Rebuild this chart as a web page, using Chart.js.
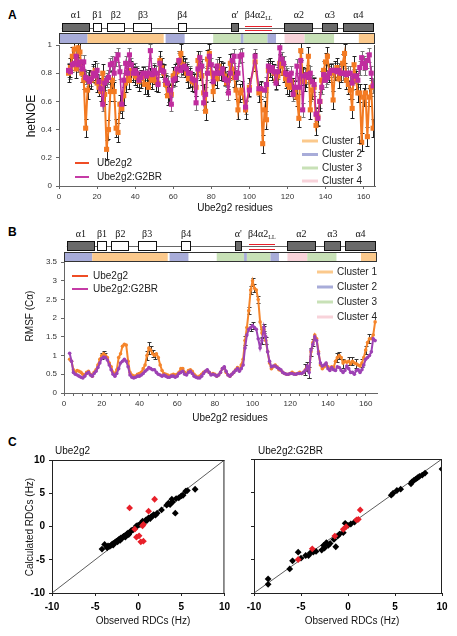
<!DOCTYPE html>
<html>
<head>
<meta charset="utf-8">
<title>Ube2g2 dynamics</title>
<script src="https://cdn.jsdelivr.net/npm/chart.js@4.4.1/dist/chart.umd.min.js"></script>
<style>
  html, body { margin: 0; padding: 0; background: #fff; }
  body { position: relative; width: 457px; height: 636px; overflow: hidden; font-family: "Liberation Sans", Arial, sans-serif; }
  canvas { position: absolute; }
  .panel-letter { position: absolute; font-weight: bold; font-size: 12px; line-height: 14px; color: #000; }
</style>
</head>
<body>
<div class="panel-letter" style="left:8px; top:8px;">A</div>
<div class="panel-letter" style="left:8px; top:225px;">B</div>
<div class="panel-letter" style="left:8px; top:435px;">C</div>
<canvas id="noeChart" width="457" height="215" style="left:0; top:0;"></canvas>
<canvas id="rmsfChart" width="457" height="212" style="left:0; top:220px;"></canvas>
<canvas id="rdcFree" width="235" height="196" style="left:0; top:440px;"></canvas>
<canvas id="rdcBound" width="222" height="196" style="left:235px; top:440px;"></canvas>
<script>
// Ube2g2 figure - hetNOE, RMSF and RDC panels

const FONT = '"Liberation Sans", Arial, sans-serif';
const SERIF = '"Liberation Serif", "Times New Roman", serif';

// ---- Panel A: hetNOE per residue ----
const noeResidues = [
    5, 6, 7, 8, 9, 10, 11, 12, 13, 14,
    15, 16, 17, 18, 19, 20, 21, 22, 23, 24,
    25, 26, 27, 28, 29, 30, 31, 32, 33, 34,
    35, 36, 37, 38, 39, 40, 41, 42, 43, 44,
    45, 46, 47, 48, 49, 50, 51, 52, 53, 54,
    55, 56, 57, 58, 59, 60, 61, 62, 63, 64,
    65, 66, 67, 68, 69, 70, 71, 72, 73, 74,
    75, 76, 77, 78, 79, 80, 81, 82, 83, 84,
    85, 86, 87, 88, 89, 90, 91, 92, 93, 94,
    95, 96, 98, 100, 103,
    105, 106, 107, 108, 109, 110, 111, 112, 113, 114,
    115, 116, 117, 118, 119, 120, 121, 122, 123, 124,
    125, 126, 127, 128, 129, 130, 131, 132, 133, 134,
    135, 136, 137, 138, 139, 140, 141, 142, 143, 144,
    145, 146, 147, 148, 149, 150, 151, 152, 153, 154,
    155, 156, 157, 158, 159, 160, 161, 162, 163, 164, 165
];
const noeUbe = [
    0.80, 0.84, 0.92, 0.97, 0.83, 0.98, 0.95, 0.80, 0.75, 0.41,
    0.68, 0.76, 0.75, 0.80, 0.82, 0.73, 0.70, 0.67, 0.80, 0.65,
    0.26, 0.40, 0.67, 0.75, 0.67, 0.41, 0.38, 0.58, 0.55, 0.64,
    0.73, 0.80, 0.75, 0.82, 0.80, 0.78, 0.77, 0.74, 0.76, 0.78,
    0.72, 0.72, 0.70, 0.77, 0.75, 0.79, 0.74, 0.73, 0.89, 0.84,
    0.80, 0.72, 0.64, 0.66, 0.65, 0.78, 0.80, 0.81, 0.89, 0.94,
    0.86, 0.84, 0.80, 0.76, 0.77, 0.74, 0.73, 0.70, 0.89, 0.82,
    0.78, 0.66, 0.53, 0.90, 0.94, 0.80, 0.67, 0.78, 0.76, 0.85,
    0.82, 0.81, 0.78, 0.73, 0.75, 0.87, 0.83, 0.77, 0.68, 0.54,
    0.66, 0.68, 0.54, 0.70, 0.88,
    0.66, 0.68, 0.30, 0.54, 0.47, 0.82, 0.84, 0.82, 0.80, 0.75,
    0.78, 0.87, 0.85, 0.80, 0.76, 0.72, 0.70, 0.74, 0.70, 0.68,
    0.63, 0.48, 0.96, 0.78, 0.74, 0.77, 0.92, 0.54, 0.68, 0.70,
    0.43, 0.49, 0.60, 0.75, 0.82, 0.88, 0.92, 0.80, 0.80, 0.61,
    0.82, 0.84, 0.76, 0.80, 0.87, 0.94, 0.75, 0.72, 0.68, 0.55,
    0.86, 0.75, 0.66, 0.66, 0.31, 0.63, 0.66, 0.35, 0.63, 0.70, 0.41
];
const noeG2br = [
    0.82, 0.81, 0.86, 0.87, 0.92, 0.86, 0.88, 0.83, 0.88, 0.77,
    0.76, 0.74, 0.76, 0.80, 0.78, 0.82, 0.74, 0.69, 0.58, 0.73,
    0.75, 0.77, 0.86, 0.87, 0.80, 0.90, 0.93, 0.81, 0.58, 0.75,
    0.87, 0.80, 0.93, 0.86, 0.80, 0.82, 0.80, 0.75, 0.77, 0.80,
    0.80, 0.78, 0.80, 0.96, 0.79, 0.82, 0.80, 0.72, 0.87, 0.82,
    0.81, 0.75, 0.73, 0.68, 0.58, 0.75, 0.76, 0.83, 0.89, 0.82,
    0.84, 0.85, 0.83, 0.80, 0.80, 0.76, 0.75, 0.59, 0.83, 0.91,
    0.85, 0.59, 0.65, 0.80, 0.92, 0.86, 0.74, 0.80, 0.85, 0.80,
    0.80, 0.83, 0.76, 0.75, 0.66, 0.80, 0.89, 0.92, 0.77, 0.80,
    0.92, 0.93, 0.56, 0.68, 0.92,
    0.69, 0.69, null, 0.68, 0.72, 0.85, 0.82, 0.84, 0.81, 0.73,
    0.81, 0.98, 0.90, 0.87, 0.80, 0.79, 0.75, 0.80, 0.65, 0.70,
    0.85, 0.70, 0.89, 0.54, 0.78, 0.79, 0.77, 0.80, 0.74, 0.72,
    0.51, 0.48, 0.60, 0.70, 0.79, 0.75, 0.77, 0.80, 0.82, 0.82,
    0.82, 0.81, 0.82, 0.80, 0.80, 0.80, 0.79, 0.80, 0.80, 0.73,
    0.78, 0.78, 0.75, 0.84, 0.91, 0.87, 0.84, 0.89, 0.93, 0.80, 0.71
];
const NOE_ERR_UBE = 0.065;
const NOE_ERR_G2BR = 0.05;
const noeTicksX = [0, 20, 40, 60, 80, 100, 120, 140, 160];
const noeTicksY = [0, 0.2, 0.4, 0.6, 0.8, 1];

// ---- Panel B: RMSF (C-alpha) per residue ----
const rmsfResidues = [
    3, 4, 5, 6, 7, 8, 9, 10, 11, 12,
    13, 14, 15, 16, 17, 18, 19, 20, 21, 22,
    23, 24, 25, 26, 27, 28, 29, 30, 31, 32,
    33, 34, 35, 36, 37, 38, 39, 40, 41, 42,
    43, 44, 45, 46, 47, 48, 49, 50, 51, 52,
    53, 54, 55, 56, 57, 58, 59, 60, 61, 62,
    63, 64, 65, 66, 67, 68, 69, 70, 71, 72,
    73, 74, 75, 76, 77, 78, 79, 80, 81, 82,
    83, 84, 85, 86, 87, 88, 89, 90, 91, 92,
    93, 94, 95, 96, 97, 98, 99, 100, 101, 102,
    103, 104, 105, 106, 107, 108, 109, 110, 111, 112,
    113, 114, 115, 116, 117, 118, 119, 120, 121, 122,
    123, 124, 125, 126, 127, 128, 129, 130, 131, 132,
    133, 134, 135, 136, 137, 138, 139, 140, 141, 142,
    143, 144, 145, 146, 147, 148, 149, 150, 151, 152,
    153, 154, 155, 156, 157, 158, 159, 160, 161, 162,
    163, 164, 165
];
const rmsfUbe = [
    0.90, 0.85, 0.62, 0.55, 0.60, 0.58, 0.55, 0.50, 0.48, 0.55,
    0.58, 0.50, 0.45, 0.55, 0.62, 0.75, 0.90, 1.00, 1.05, 1.00,
    0.95, 0.80, 0.70, 0.55, 0.50, 0.62, 0.95, 1.05, 1.25, 1.30,
    1.28, 0.85, 0.55, 0.48, 0.45, 0.45, 0.50, 0.52, 0.55, 0.65,
    0.75, 1.00, 1.20, 1.15, 1.05, 1.00, 1.05, 0.95, 0.75, 0.60,
    0.52, 0.50, 0.48, 0.45, 0.48, 0.50, 0.48, 0.50, 0.55, 0.65,
    0.65, 0.55, 0.52, 0.60, 0.62, 0.58, 0.50, 0.45, 0.42, 0.45,
    0.50, 0.55, 0.58, 0.60, 0.55, 0.50, 0.52, 0.50, 0.45, 0.48,
    0.55, 0.65, 0.68, 0.55, 0.48, 0.45, 0.50, 0.55, 0.62, 0.68,
    0.60, 0.75, 0.90, 1.40, 1.75, 2.20, 2.75, 3.00, 2.80, 2.75,
    2.50, 1.90, 1.60, 1.70, 1.40, 1.10, 0.80, 0.65, 0.70, 0.75,
    0.70, 0.62, 0.60, 0.55, 0.52, 0.50, 0.50, 0.52, 0.55, 0.52,
    0.50, 0.52, 0.55, 0.52, 0.55, 0.62, 0.70, 0.62, 1.10, 1.35,
    1.55, 1.45, 1.10, 0.75, 0.65, 0.70, 0.78, 0.70, 0.62, 0.70,
    0.68, 0.85, 0.95, 1.00, 0.95, 0.80, 0.85, 0.82, 0.85, 0.78,
    0.85, 0.80, 0.78, 0.75, 0.72, 0.80, 0.95, 1.15, 1.35, 1.45,
    1.45, 1.55, 1.90
];
const rmsfG2br = [
    1.06, 0.85, 0.55, 0.50, 0.48, 0.45, 0.42, 0.40, 0.45, 0.52,
    0.55, 0.48, 0.45, 0.52, 0.58, 0.68, 0.80, 0.92, 0.96, 0.95,
    0.88, 0.75, 0.62, 0.50, 0.45, 0.52, 0.65, 0.80, 0.85, 0.90,
    0.85, 0.70, 0.48, 0.42, 0.40, 0.42, 0.45, 0.45, 0.48, 0.52,
    0.58, 0.62, 0.68, 0.65, 0.62, 0.62, 0.55, 0.50, 0.48, 0.45,
    0.48, 0.45, 0.42, 0.42, 0.45, 0.45, 0.42, 0.45, 0.52, 0.55,
    0.58, 0.50, 0.48, 0.55, 0.58, 0.52, 0.45, 0.42, 0.40, 0.40,
    0.45, 0.52, 0.58, 0.62, 0.55, 0.48, 0.50, 0.48, 0.45, 0.48,
    0.55, 0.65, 0.70, 0.58, 0.48, 0.45, 0.50, 0.55, 0.60, 0.65,
    0.58, 0.65, 0.75, 1.20, 1.55, 1.70, 1.75, 1.80, 1.75, 1.70,
    1.45, 1.20, 1.40, 1.75, 1.50, 1.10, 0.85, 0.70, 0.72, 0.72,
    0.68, 0.65, 0.62, 0.55, 0.52, 0.50, 0.50, 0.52, 0.52, 0.50,
    0.50, 0.52, 0.52, 0.52, 0.55, 0.60, 0.72, 0.55, 1.15, 1.30,
    1.50, 1.40, 1.05, 0.80, 0.72, 0.75, 0.80, 0.65, 0.60, 0.68,
    0.62, 0.60, 0.70, 0.68, 0.60, 0.55, 0.60, 0.72, 0.65, 0.55,
    0.55, 0.50, 0.60, 0.62, 0.55, 0.62, 0.75, 0.90, 0.95, 1.00,
    1.10, 1.45, 1.40
];
// only some residues show visible error bars
const rmsfErrResUbe = [20, 21, 22, 44, 45, 46, 47, 48, 96, 98, 99, 100, 101, 103, 105, 106, 107,
    128, 129, 130, 131, 132, 145, 146, 148, 151, 153, 155, 158, 160, 162];
const rmsfErrUbe = [0.08, 0.07, 0.06, 0.12, 0.15, 0.10, 0.10, 0.08, 0.12, 0.10, 0.10, 0.08, 0.10, 0.10, 0.12, 0.10, 0.10,
    0.15, 0.12, 0.22, 0.10, 0.10, 0.12, 0.10, 0.12, 0.10, 0.10, 0.12, 0.10, 0.10, 0.12];
const rmsfErrResG2br = [99, 100, 105, 106, 130];
const rmsfErrG2br = [0.10, 0.10, 0.10, 0.10, 0.15];
const rmsfTicksY = [0, 0.5, 1, 1.5, 2, 2.5, 3, 3.5];

// ---- Secondary structure and clusters (residue ranges) ----
const ssLabels = ['α1', 'β1', 'β2', 'β3', 'β4', "α'", 'β4α2', 'α2', 'α3', 'α4'];
const ssSub = ['', '', '', '', '', '', 'LL', '', '', ''];
const ssStart = [1.5, 17.7, 25.1, 39.1, 62.3, 90.5, 97.9, 118.4, 137.9, 149.1];
const ssEnd = [16.3, 22.6, 34.7, 49.1, 67.2, 94.4, 111.9, 133.5, 146.8, 165.4];
const ssType = ['helix', 'strand', 'strand', 'strand', 'strand', 'helix', 'loop', 'helix', 'helix', 'helix'];
const backbone = [1.5, 165.4];

const clusterNames = ['Cluster 1', 'Cluster 2', 'Cluster 3', 'Cluster 4'];
const clusterColors = ['#fbc98c', '#a8acd9', '#c8e1b7', '#f8d3da'];
const clusterStart = [0, 15, 56, 81, 95.5, 97, 109.5, 118.5, 129, 157.5];
const clusterEnd = [15, 55, 66, 95.5, 97, 109.5, 114, 129, 144.5, 166];
const clusterOf = [2, 1, 2, 3, 2, 3, 2, 4, 3, 1];
const RES_MAX = 166;

// ---- Panel C: observed vs calculated RDCs (Hz) ----
const obsFree = [-4.2, -3.9, -3.6, -3.5, -3.3, -3.1, -3.0, -2.9, -2.8, -2.7,
    -2.6, -2.5, -2.4, -2.3, -2.2, -2.1, -2.0, -1.9, -1.8, -1.7,
    -1.6, -1.5, -1.4, -1.3, -1.2, -1.1, -1.0, -0.9, -0.8, -0.6,
    -0.4, -0.2, 0.0, 0.2, 0.4, 0.5, 0.7, 0.9, 1.0, 1.2,
    1.4, 1.5, 1.7, 1.8, 2.0, 2.2, 2.7, 3.3, 3.5, 3.7,
    3.9, 4.0, 4.3, 4.4, 4.7, 5.0, 5.2, 5.5, 5.7, 6.6];
const calcFree = [-3.4, -2.7, -3.2, -2.9, -3.0, -2.8, -2.6, -2.8, -2.5, -2.4,
    -2.3, -2.2, -2.3, -2.0, -1.9, -2.1, -1.7, -1.8, -1.6, -1.5,
    -1.4, -1.6, -1.3, -1.1, -1.0, -1.2, -0.9, -0.8, -0.6, -0.5,
    -0.3, 0.1, 0.2, 0.3, 0.5, 0.8, 0.7, 1.0, 0.9, 1.3,
    1.2, 1.5, 1.6, 1.8, 1.7, 2.0, 2.5, 3.2, 3.5, 3.3,
    4.1, 3.7, 2.0, 4.2, 4.3, 4.6, 4.7, 5.3, 5.4, 5.6];
const obsFreeLoop = [-1.0, 1.9, 1.2, 0.5, 0.6, -0.4, -0.2, 0.1, 0.3, 0.6];
const calcFreeLoop = [2.8, 4.1, 2.3, 0.1, 0.3, -0.4, -1.6, -1.4, -2.3, -2.2];

const obsBound = [-8.5, -8.5, -6.2, -5.9, -5.3, -5.0, -4.5, -4.2, -4.0, -3.7,
    -3.4, -2.8, -2.6, -2.5, -2.3, -2.1, -1.9, -1.5, -1.3, -1.1,
    -0.9, -0.5, -0.3, 0.0, 0.3, 0.7, 4.6, 4.8, 5.2, 5.6,
    6.7, 6.8, 7.0, 7.2, 7.4, 7.6, 7.9, 8.2, 10.0];
const calcBound = [-7.9, -8.7, -6.4, -5.2, -3.9, -4.8, -4.4, -4.4, -4.0, -3.9,
    -3.8, -3.6, -2.9, -3.3, -2.5, -2.9, -2.6, -2.0, -3.1, -1.5,
    -1.2, -1.0, 0.4, 0.1, 0.3, 0.6, 4.6, 4.9, 5.3, 5.5,
    6.3, 6.6, 6.8, 7.0, 7.2, 7.4, 7.6, 7.9, 8.5];
const obsBoundLoop = [1.3, 0.9, 1.1, -0.2, -0.5, -1.4, -3.8, -5.3];
const calcBoundLoop = [2.4, 0.9, 1.0, -0.1, -0.5, -1.5, -3.4, -5.0];

const diagonal = [-10, 10];
const rdcTicks = [-10, -5, 0, 5, 10];

// Colours
const NOE_ORANGE = '#f37a22';
const NOE_PURPLE = '#c02c9e';
const RMSF_ORANGE = '#f5852b';
const RMSF_PURPLE = '#9d42b4';
const KEY_ORANGE = '#ef4d25';
const KEY_PURPLE = '#c53ba6';
const LOOP_RED = '#e8202a';

function toPoints(xs, ys) {
    return xs.map((x, i) => ({ x: x, y: ys[i] }));
}

// Error bars drawn under the markers
const errorBarPlugin = {
    id: 'errorBars',
    beforeDatasetsDraw(chart) {
        const ctx = chart.ctx;
        const xs = chart.scales.x, ys = chart.scales.y;
        ctx.save();
        ctx.beginPath();
        ctx.rect(chart.chartArea.left, chart.chartArea.top - 4, chart.chartArea.width, chart.chartArea.height + 4);
        ctx.clip();
        chart.data.datasets.forEach(ds => {
            if (!ds.errorBars) return;
            ctx.strokeStyle = ds.errorBars.color;
            ctx.lineWidth = 1;
            ds.errorBars.x.forEach((xv, i) => {
                const p = ds.data.find(d => d.x === xv);
                if (!p || p.y == null) return;
                const e = ds.errorBars.err[i];
                const x = Math.round(xs.getPixelForValue(xv)) + 0.5;
                const y0 = Math.round(ys.getPixelForValue(p.y - e)) + 0.5;
                const y1 = Math.round(ys.getPixelForValue(p.y + e)) + 0.5;
                ctx.beginPath();
                ctx.moveTo(x, y0); ctx.lineTo(x, y1);
                ctx.moveTo(x - 2, y0); ctx.lineTo(x + 2, y0);
                ctx.moveTo(x - 2, y1); ctx.lineTo(x + 2, y1);
                ctx.stroke();
            });
        });
        ctx.restore();
    }
};

// Secondary structure row + cluster bar above the plot
function makeStructurePlugin(off) {
    return {
        id: 'structure',
        afterDraw(chart) {
            const ctx = chart.ctx;
            const xs = chart.scales.x;
            const top = chart.chartArea.top;
            const px = v => xs.getPixelForValue(v);
            ctx.save();

            // cluster bar
            const b0 = top + off.barTop, b1 = top + off.barBottom;
            ctx.fillStyle = '#fff';
            ctx.fillRect(px(0), b0, px(RES_MAX) - px(0), b1 - b0);
            clusterStart.forEach((s, i) => {
                ctx.fillStyle = clusterColors[clusterOf[i] - 1];
                ctx.fillRect(px(s), b0, px(clusterEnd[i]) - px(s), b1 - b0);
            });
            ctx.strokeStyle = '#333';
            ctx.lineWidth = 1;
            ctx.strokeRect(Math.round(px(0)) + 0.5, Math.round(b0) + 0.5,
                Math.round(px(RES_MAX) - px(0)) - 1, Math.round(b1 - b0) - 1);

            // backbone line
            const s0 = top + off.boxTop, s1 = top + off.boxBottom;
            const mid = Math.round((s0 + s1) / 2) + 0.5;
            ctx.strokeStyle = '#666';
            ctx.beginPath();
            ctx.moveTo(px(backbone[0]), mid);
            ctx.lineTo(px(backbone[1]), mid);
            ctx.stroke();

            ssStart.forEach((s, i) => {
                const x0 = Math.round(px(s)), x1 = Math.round(px(ssEnd[i]));
                if (ssType[i] === 'loop') {
                    ctx.strokeStyle = LOOP_RED;
                    [s0 + 2.5, s1 - 2.5].forEach(y => {
                        ctx.beginPath();
                        ctx.moveTo(x0, Math.round(y) + 0.5);
                        ctx.lineTo(x1, Math.round(y) + 0.5);
                        ctx.stroke();
                    });
                } else {
                    ctx.fillStyle = ssType[i] === 'helix' ? '#6a6a6a' : '#fff';
                    ctx.fillRect(x0, s0, x1 - x0, s1 - s0);
                    ctx.strokeStyle = '#111';
                    ctx.strokeRect(x0 + 0.5, Math.round(s0) + 0.5, x1 - x0 - 1, Math.round(s1 - s0) - 1);
                }
                // label centred over the element
                const cx = (px(s) + px(ssEnd[i])) / 2;
                const ly = top + off.labelY;
                ctx.fillStyle = '#111';
                ctx.textBaseline = 'middle';
                ctx.font = '10px ' + SERIF;
                const mainW = ctx.measureText(ssLabels[i]).width;
                let subW = 0;
                if (ssSub[i]) {
                    ctx.font = '6px ' + SERIF;
                    subW = ctx.measureText(ssSub[i]).width;
                }
                const startX = cx - (mainW + subW) / 2;
                ctx.textAlign = 'left';
                ctx.font = '10px ' + SERIF;
                ctx.fillText(ssLabels[i], startX, ly);
                if (ssSub[i]) {
                    ctx.font = '6px ' + SERIF;
                    ctx.fillText(ssSub[i], startX + mainW, ly + 3);
                }
            });
            ctx.restore();
        }
    };
}

// Line-swatch keys placed by hand inside the plot
function makeKeyPlugin(entries) {
    return {
        id: 'keys',
        afterDraw(chart) {
            const ctx = chart.ctx;
            ctx.save();
            entries.forEach(k => {
                ctx.strokeStyle = k.color;
                ctx.lineWidth = k.lineWidth;
                ctx.beginPath();
                ctx.moveTo(k.x0, k.y);
                ctx.lineTo(k.x1, k.y);
                ctx.stroke();
                ctx.fillStyle = '#222';
                ctx.font = '10px ' + FONT;
                ctx.textAlign = 'left';
                ctx.textBaseline = 'middle';
                ctx.fillText(k.label, k.tx, k.y);
            });
            ctx.restore();
        }
    };
}

function makeTextPlugin(items) {
    return {
        id: 'freeText',
        afterDraw(chart) {
            const ctx = chart.ctx;
            items.forEach(it => {
                ctx.save();
                ctx.font = it.font;
                ctx.fillStyle = '#111';
                ctx.textAlign = it.align || 'center';
                ctx.textBaseline = 'middle';
                ctx.translate(it.x, it.y);
                if (it.rotate) ctx.rotate(it.rotate);
                ctx.fillText(it.text, 0, 0);
                ctx.restore();
            });
        }
    };
}

function makeFramePlugin(sides, color) {
    return {
        id: 'frame',
        afterDatasetsDraw(chart) {
            const { ctx, chartArea: a } = chart;
            ctx.save();
            ctx.strokeStyle = color;
            ctx.lineWidth = 1;
            ctx.beginPath();
            if (sides.includes('top')) { ctx.moveTo(a.left, a.top + 0.5); ctx.lineTo(a.right, a.top + 0.5); }
            if (sides.includes('right')) { ctx.moveTo(a.right - 0.5, a.top); ctx.lineTo(a.right - 0.5, a.bottom); }
            ctx.stroke();
            ctx.restore();
        }
    };
}

function residueAxis(ticksFn, labelFn, height, step) {
    return {
        type: 'linear', min: 0, max: RES_MAX,
        afterBuildTicks: ticksFn,
        afterFit: s => { s.height = height; },
        grid: { display: true, drawOnChartArea: false, tickLength: 3, color: '#666' },
        border: { color: '#666', width: 1 },
        ticks: {
            stepSize: step, font: { family: FONT, size: 8 }, color: '#333', padding: 3,
            maxRotation: 0, autoSkip: false, callback: labelFn
        }
    };
}

function valueAxis(min, max, tickValues, width) {
    return {
        type: 'linear', min: min, max: max,
        afterBuildTicks: s => { s.ticks = tickValues.map(v => ({ value: v })); },
        afterFit: s => { s.width = width; },
        grid: { display: true, drawOnChartArea: false, tickLength: 3, color: '#666' },
        border: { color: '#666', width: 1 },
        ticks: { font: { family: FONT, size: 8 }, color: '#333', padding: 4, callback: v => String(v) }
    };
}

Chart.defaults.font.family = FONT;

// ---- Chart A ----
new Chart(document.getElementById('noeChart'), {
    type: 'line',
    data: {
        datasets: [
            {
                label: 'Ube2g2:G2BR',
                data: toPoints(noeResidues, noeG2br),
                borderColor: NOE_PURPLE, backgroundColor: NOE_PURPLE,
                borderWidth: 1.6, pointStyle: 'rect', pointRadius: 3.6, pointBorderWidth: 0,
                spanGaps: true, tension: 0,
                errorBars: { x: noeResidues, err: noeResidues.map(() => NOE_ERR_G2BR), color: '#777' }
            },
            {
                label: 'Ube2g2',
                data: toPoints(noeResidues, noeUbe),
                borderColor: NOE_ORANGE, backgroundColor: NOE_ORANGE,
                borderWidth: 2, pointStyle: 'rect', pointRadius: 3.6, pointBorderWidth: 0,
                spanGaps: true, tension: 0,
                errorBars: { x: noeResidues, err: noeResidues.map(() => NOE_ERR_UBE), color: '#222' }
            }
        ]
    },
    options: {
        responsive: false, animation: false, devicePixelRatio: 1,
        layout: { padding: { top: 45, right: 82, left: 0, bottom: 0 } },
        plugins: { legend: { display: false }, tooltip: { enabled: false } },
        scales: {
            x: residueAxis(s => { s.ticks = noeTicksX.map(v => ({ value: v })); }, v => String(v), 29, 20),
            y: valueAxis(0, 1, noeTicksY, 59)
        }
    },
    plugins: [
        errorBarPlugin,
        makeStructurePlugin({ labelY: -30, boxTop: -22, boxBottom: -13, barTop: -12, barBottom: -1 }),
        makeFramePlugin(['right'], '#444'),
        makeKeyPlugin([
            { label: 'Ube2g2', color: KEY_ORANGE, lineWidth: 2, x0: 75, x1: 89, tx: 97, y: 163 },
            { label: 'Ube2g2:G2BR', color: KEY_PURPLE, lineWidth: 2, x0: 75, x1: 89, tx: 97, y: 177 },
            { label: clusterNames[0], color: clusterColors[0], lineWidth: 3, x0: 302, x1: 318, tx: 322, y: 141 },
            { label: clusterNames[1], color: clusterColors[1], lineWidth: 3, x0: 302, x1: 318, tx: 322, y: 154.5 },
            { label: clusterNames[2], color: clusterColors[2], lineWidth: 3, x0: 302, x1: 318, tx: 322, y: 168 },
            { label: clusterNames[3], color: clusterColors[3], lineWidth: 3, x0: 302, x1: 318, tx: 322, y: 181 }
        ]),
        makeTextPlugin([
            { text: 'hetNOE', x: 32, y: 116, font: '12px ' + FONT, rotate: -Math.PI / 2 },
            { text: 'Ube2g2 residues', x: 235, y: 208, font: '10px ' + FONT }
        ])
    ]
});

// ---- Chart B ----
new Chart(document.getElementById('rmsfChart'), {
    type: 'line',
    data: {
        datasets: [
            {
                label: 'Ube2g2:G2BR',
                data: toPoints(rmsfResidues, rmsfG2br),
                borderColor: RMSF_PURPLE, backgroundColor: RMSF_PURPLE,
                borderWidth: 2, pointRadius: 1.8, pointBorderWidth: 0, tension: 0,
                errorBars: { x: rmsfErrResG2br, err: rmsfErrG2br, color: '#333' }
            },
            {
                label: 'Ube2g2',
                data: toPoints(rmsfResidues, rmsfUbe),
                borderColor: RMSF_ORANGE, backgroundColor: RMSF_ORANGE,
                borderWidth: 2, pointRadius: 1.8, pointBorderWidth: 0, tension: 0,
                errorBars: { x: rmsfErrResUbe, err: rmsfErrUbe, color: '#333' }
            }
        ]
    },
    options: {
        responsive: false, animation: false, devicePixelRatio: 1,
        layout: { padding: { top: 42, right: 80, left: 0, bottom: 0 } },
        plugins: { legend: { display: false }, tooltip: { enabled: false } },
        scales: {
            // minor ticks every 5 residues, labels every 20
            x: residueAxis(
                s => { s.ticks = s.ticks.filter(t => t.value % 5 === 0); },
                v => (v % 20 === 0 ? String(v) : ''),
                39, 5
            ),
            y: valueAxis(0, 3.5, rmsfTicksY, 64)
        }
    },
    plugins: [
        errorBarPlugin,
        makeStructurePlugin({ labelY: -28, boxTop: -21, boxBottom: -11, barTop: -10, barBottom: 0 }),
        makeKeyPlugin([
            { label: 'Ube2g2', color: KEY_ORANGE, lineWidth: 2, x0: 72, x1: 88, tx: 93, y: 56 },
            { label: 'Ube2g2:G2BR', color: KEY_PURPLE, lineWidth: 2, x0: 72, x1: 88, tx: 93, y: 69 },
            { label: clusterNames[0], color: clusterColors[0], lineWidth: 3, x0: 317, x1: 333, tx: 337, y: 52 },
            { label: clusterNames[1], color: clusterColors[1], lineWidth: 3, x0: 317, x1: 333, tx: 337, y: 67 },
            { label: clusterNames[2], color: clusterColors[2], lineWidth: 3, x0: 317, x1: 333, tx: 337, y: 82 },
            { label: clusterNames[3], color: clusterColors[3], lineWidth: 3, x0: 317, x1: 333, tx: 337, y: 97 }
        ]),
        makeTextPlugin([
            { text: 'RMSF (Cα)', x: 30, y: 96, font: '10px ' + FONT, rotate: -Math.PI / 2 },
            { text: 'Ube2g2 residues', x: 230, y: 198, font: '10px ' + FONT }
        ])
    ]
});

// ---- Chart C (two scatter plots) ----
function rdcConfig(cfg) {
    return {
        type: 'scatter',
        data: {
            datasets: [
                {
                    label: 'loop',
                    data: toPoints(cfg.loopObs, cfg.loopCalc),
                    pointStyle: 'rectRot', pointRadius: 3.4, pointBorderWidth: 0,
                    backgroundColor: LOOP_RED, borderColor: LOOP_RED
                },
                {
                    label: 'core',
                    data: toPoints(cfg.obs, cfg.calc),
                    pointStyle: 'rectRot', pointRadius: 3.4, pointBorderWidth: 0,
                    backgroundColor: '#000', borderColor: '#000'
                },
                {
                    type: 'line', label: 'y = x',
                    data: toPoints(diagonal, diagonal),
                    borderColor: '#333', borderWidth: 0.8, pointRadius: 0
                }
            ]
        },
        options: {
            responsive: false, animation: false, devicePixelRatio: 1,
            layout: { padding: cfg.padding },
            plugins: { legend: { display: false }, tooltip: { enabled: false } },
            scales: {
                x: {
                    type: 'linear', min: -10, max: 10,
                    afterBuildTicks: s => { s.ticks = rdcTicks.map(v => ({ value: v })); },
                    afterFit: s => { s.height = 43; },
                    grid: { display: true, drawOnChartArea: false, tickLength: 3, color: '#222' },
                    border: { color: '#222', width: 1 },
                    ticks: { font: { family: FONT, size: 10, weight: 'bold' }, color: '#000', padding: 5, maxRotation: 0, autoSkip: false }
                },
                y: {
                    type: 'linear', min: -10, max: 10,
                    afterBuildTicks: s => { s.ticks = rdcTicks.map(v => ({ value: v })); },
                    afterFit: s => { s.width = cfg.yWidth; },
                    grid: { display: true, drawOnChartArea: false, tickLength: 3, color: '#222' },
                    border: { color: '#222', width: 1 },
                    ticks: {
                        font: { family: FONT, size: 10, weight: 'bold' }, color: '#000', padding: 4,
                        callback: v => (cfg.yLabels ? String(v) : '')
                    }
                }
            }
        },
        plugins: [
            makeFramePlugin(['top', 'right'], '#222'),
            makeTextPlugin(cfg.texts)
        ]
    };
}

new Chart(document.getElementById('rdcFree'), rdcConfig({
    obs: obsFree, calc: calcFree, loopObs: obsFreeLoop, loopCalc: calcFreeLoop,
    padding: { top: 20, right: 7, left: 0, bottom: 0 }, yWidth: 52, yLabels: true,
    texts: [
        { text: 'Ube2g2', x: 55, y: 11, font: '10px ' + FONT, align: 'left' },
        { text: 'Observed RDCs (Hz)', x: 143, y: 181, font: '10px ' + FONT },
        { text: 'Calculated RDCs (Hz)', x: 30, y: 87, font: '10px ' + FONT, rotate: -Math.PI / 2 }
    ]
}));

new Chart(document.getElementById('rdcBound'), rdcConfig({
    obs: obsBound, calc: calcBound, loopObs: obsBoundLoop, loopCalc: calcBoundLoop,
    padding: { top: 19, right: 15, left: 0, bottom: 0 }, yWidth: 19, yLabels: false,
    texts: [
        { text: 'Ube2g2:G2BR', x: 23, y: 11, font: '10px ' + FONT, align: 'left' },
        { text: 'Observed RDCs (Hz)', x: 117, y: 181, font: '10px ' + FONT }
    ]
}));
</script>
</body>
</html>
